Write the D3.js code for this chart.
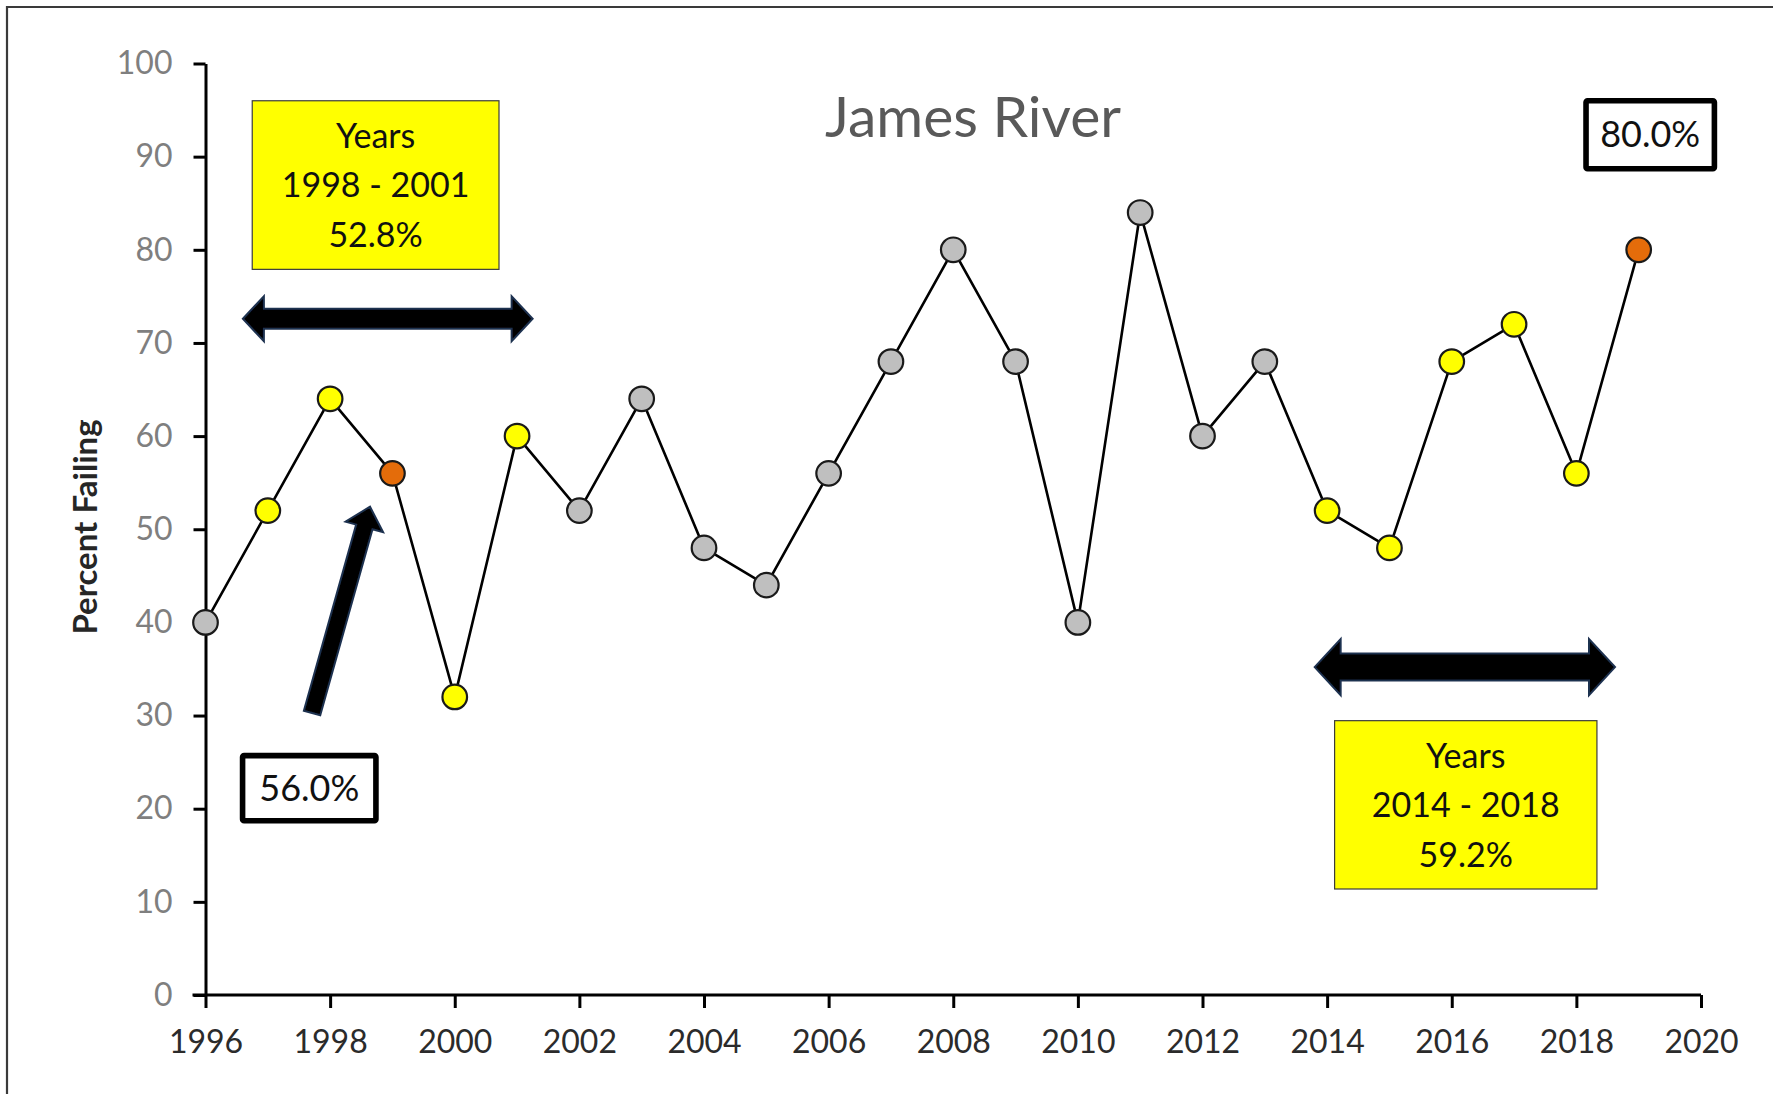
<!DOCTYPE html>
<html>
<head>
<meta charset="utf-8">
<script src="https://cdn.jsdelivr.net/npm/d3@7"></script>
<style>
  html, body { margin: 0; padding: 0; background: #fff; }
  svg { display: block; }
  text { font-family: Lato, "Open Sans", sans-serif; }
</style>
</head>
<body>
<svg id="chart" width="1773" height="1094"></svg>
<script>
// Percent of samples failing, James River, by year
const years = [1996, 1997, 1998, 1999, 2000, 2001, 2002, 2003, 2004, 2005, 2006, 2007,
               2008, 2009, 2010, 2011, 2012, 2013, 2014, 2015, 2016, 2017, 2018, 2019];
const percentFailing = [40, 52, 64, 56, 32, 60, 52, 64, 48, 44, 56, 68,
                        80, 68, 40, 84, 60, 68, 52, 48, 68, 72, 56, 80];
// marker category: "base", "period" (averaged span), "highlight" (called-out year)
const markerKind = ["base", "period", "period", "highlight", "period", "period", "base", "base",
                    "base", "base", "base", "base", "base", "base", "base", "base", "base", "base",
                    "period", "period", "period", "period", "period", "highlight"];
const xTicks = [1996, 1998, 2000, 2002, 2004, 2006, 2008, 2010, 2012, 2014, 2016, 2018, 2020];
const yTicks = [0, 10, 20, 30, 40, 50, 60, 70, 80, 90, 100];

const titleText = "James River";
const yLabelText = "Percent Failing";
const periodBoxes = [
  { lines: ["Years", "1998 - 2001", "52.8%"], x0: 1996.75, x1: 2000.71, y0: 96.0, y1: 77.9 },
  { lines: ["Years", "2014 - 2018", "59.2%"], x0: 2014.12, x1: 2018.33, y0: 29.45, y1: 11.38 }
];
const periodArrows = [
  { x0: 1996.6, x1: 2001.25, y: 72.6, half: 22.5, shaft: 10, head: 21 },
  { x0: 2013.8, x1: 2018.62, y: 35.2, half: 28, shaft: 13.5, head: 26 }
];
const valueBoxes = [
  { text: "56.0%", x0: 1996.55, x1: 1998.78, y0: 26.0, y1: 18.4 },
  { text: "80.0%", x0: 2018.11, x1: 2020.26, y0: 96.3, y1: 88.4 }
];
const pointerArrow = { from: [1997.71, 30.27], to: [1998.64, 52.42] };

const colors = { base: "#bfbfbf", period: "#ffff00", highlight: "#e46c0a" };

const svg = d3.select("#chart");

const x = d3.scaleLinear().domain([1996, 2020]).range([205.5, 1701]);
const y = d3.scaleLinear().domain([0, 100]).range([995, 63.5]);

// outer frame (left and top edges)
svg.append("path")
  .attr("d", "M7,1094 L7,7 L1773,7")
  .attr("fill", "none").attr("stroke", "#3a3a3a").attr("stroke-width", 2.2);

const defs = svg.append("defs");
defs.append("filter").attr("id", "soft")
  .append("feGaussianBlur").attr("stdDeviation", 0.6);

// axes
const yAxis = svg.append("g")
  .attr("transform", `translate(${x(1996)},0)`)
  .call(d3.axisLeft(y).tickValues(yTicks).tickSize(12).tickSizeOuter(0).tickPadding(21));
yAxis.selectAll("path, line").attr("stroke", "#000").attr("stroke-width", 3);
yAxis.selectAll("text").attr("fill", "#7f7f7f").style("font-size", "32px");

const xAxis = svg.append("g")
  .attr("transform", `translate(0,${y(0)})`)
  .call(d3.axisBottom(x).tickValues(xTicks).tickFormat(d3.format("d"))
          .tickSize(13).tickSizeOuter(0).tickPadding(22));
xAxis.select(".domain").attr("d", `M${x(1996) - 13},0H${x(2020)}`);
xAxis.selectAll("path, line").attr("stroke", "#000").attr("stroke-width", 3);
xAxis.selectAll("text").attr("fill", "#2b2b2b").style("font-size", "32px");

// title and axis label
svg.append("text")
  .attr("x", 973).attr("y", 137)
  .attr("text-anchor", "middle")
  .attr("fill", "#595959")
  .style("font-size", "57px")
  .text(titleText);

svg.append("text")
  .attr("transform", "translate(97,527) rotate(-90)")
  .attr("text-anchor", "middle")
  .attr("fill", "#262626")
  .style("font-size", "33px")
  .style("font-weight", 700)
  .text(yLabelText);

// averaged-period boxes
periodBoxes.forEach(b => {
  const bx = x(b.x0), by = y(b.y0), bw = x(b.x1) - x(b.x0), bh = y(b.y1) - y(b.y0);
  svg.append("rect")
    .attr("x", bx).attr("y", by).attr("width", bw).attr("height", bh)
    .attr("fill", "#ffff00").attr("stroke", "#3c3c3c").attr("stroke-width", 1.2);
  b.lines.forEach((t, i) => {
    svg.append("text")
      .attr("x", bx + bw / 2).attr("y", by + 47 + i * 49.5)
      .attr("text-anchor", "middle")
      .attr("fill", "#111")
      .style("font-size", "34px")
      .text(t);
  });
});

// double-headed arrows spanning the averaged periods
function doubleArrow(a) {
  const l = x(a.x0), r = x(a.x1), c = y(a.y);
  return [
    [l, c], [l + a.head, c - a.half], [l + a.head, c - a.shaft],
    [r - a.head, c - a.shaft], [r - a.head, c - a.half], [r, c],
    [r - a.head, c + a.half], [r - a.head, c + a.shaft],
    [l + a.head, c + a.shaft], [l + a.head, c + a.half]
  ];
}
periodArrows.forEach(a => {
  svg.append("polygon")
    .attr("points", doubleArrow(a).map(p => p.join(",")).join(" "))
    .attr("fill", "#000").attr("stroke", "#1f3150").attr("stroke-width", 2)
    .attr("stroke-linejoin", "miter")
    .attr("filter", "url(#soft)");
});

// pointer arrow to the highlighted 1999 value
(function () {
  const [tx, ty] = [x(pointerArrow.from[0]), y(pointerArrow.from[1])];
  const [hx, hy] = [x(pointerArrow.to[0]), y(pointerArrow.to[1])];
  const dx = hx - tx, dy = hy - ty, len = Math.hypot(dx, dy);
  const ux = dx / len, uy = dy / len, px = -uy, py = ux;
  const shaft = 8.5, half = 19.5, head = 21;
  const bx = hx - ux * head, by = hy - uy * head;
  const pts = [
    [tx + px * shaft, ty + py * shaft], [bx + px * shaft, by + py * shaft],
    [bx + px * half, by + py * half], [hx, hy],
    [bx - px * half, by - py * half], [bx - px * shaft, by - py * shaft],
    [tx - px * shaft, ty - py * shaft]
  ];
  svg.append("polygon")
    .attr("points", pts.map(p => p.join(",")).join(" "))
    .attr("fill", "#000").attr("stroke", "#1f3150").attr("stroke-width", 2)
    .attr("filter", "url(#soft)");
})();

// value call-out boxes
valueBoxes.forEach(b => {
  const bx = x(b.x0), by = y(b.y0), bw = x(b.x1) - x(b.x0), bh = y(b.y1) - y(b.y0);
  svg.append("rect")
    .attr("x", bx + 2.8).attr("y", by + 2.8).attr("width", bw - 5.6).attr("height", bh - 5.6)
    .attr("rx", 1.5)
    .attr("fill", "#fff").attr("stroke", "#000").attr("stroke-width", 5.6);
  svg.append("text")
    .attr("x", bx + bw / 2).attr("y", by + bh / 2 + 12.5)
    .attr("text-anchor", "middle")
    .attr("fill", "#111")
    .style("font-size", "36px")
    .text(b.text);
});

// series line and markers
const data = years.map((yr, i) => ({ year: yr, value: percentFailing[i], kind: markerKind[i] }));

svg.append("path")
  .datum(data)
  .attr("fill", "none")
  .attr("stroke", "#000")
  .attr("stroke-width", 2.6)
  .attr("stroke-linejoin", "round")
  .attr("d", d3.line().x(d => x(d.year)).y(d => y(d.value)));

svg.append("g").selectAll("circle")
  .data(data)
  .join("circle")
  .attr("cx", d => x(d.year))
  .attr("cy", d => y(d.value))
  .attr("r", 12.3)
  .attr("fill", d => colors[d.kind])
  .attr("stroke", "#1a1a1a")
  .attr("stroke-width", 2.2);
</script>
</body>
</html>
